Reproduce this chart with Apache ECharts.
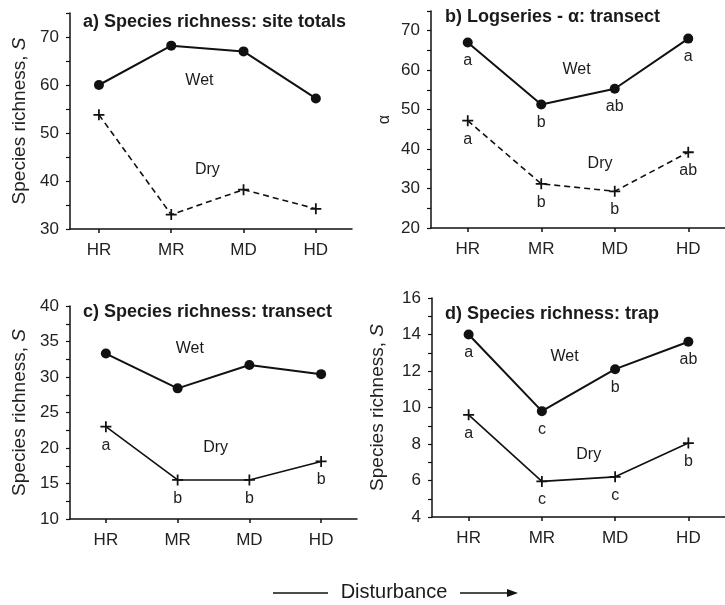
<!DOCTYPE html>
<html>
<head>
<meta charset="utf-8">
<script src="https://cdn.jsdelivr.net/npm/echarts@6/dist/echarts.min.js"></script>
<style>
  html, body { margin: 0; padding: 0; background: #fff; }
  #chart { width: 725px; height: 605px; }
</style>
</head>
<body>
<div id="chart"></div>
<script>
var cats = ['HR', 'MR', 'MD', 'HD'];

// a) site totals
var wetA = [60, 68.2, 67, 57.2];
var dryA = [53.8, 33, 38.2, 34.2];
// b) logseries alpha
var wetB = [67, 51.3, 55.3, 68];
var dryB = [47.2, 31.2, 29.3, 39.2];
var wetLettersB = ['a', 'b', 'ab', 'a'];
var dryLettersB = ['a', 'b', 'b', 'ab'];
// c) transect
var wetC = [33.3, 28.4, 31.7, 30.4];
var dryC = [23, 15.5, 15.5, 18.1];
var dryLettersC = ['a', 'b', 'b', 'b'];
// d) trap
var wetD = [14, 9.8, 12.1, 13.6];
var dryD = [9.6, 5.95, 6.2, 8.05];
var wetLettersD = ['a', 'c', 'b', 'ab'];
var dryLettersD = ['a', 'c', 'c', 'b'];

var yLabelsA = [30, 40, 50, 60, 70];
var yLabelsB = [20, 30, 40, 50, 60, 70];
var yLabelsC = [10, 15, 20, 25, 30, 35, 40];
var yLabelsD = [4, 6, 8, 10, 12, 14, 16];

// Wet / Dry annotation spots, in data units [x, y]
var notesA = [[1.39, 61.0, 'Wet'], [1.5, 42.3, 'Dry']];
var notesB = [[1.48, 60.1, 'Wet'], [1.8, 36.2, 'Dry']];
var notesC = [[1.17, 34.0, 'Wet'], [1.53, 20.0, 'Dry']];
var notesD = [[1.31, 12.8, 'Wet'], [1.64, 7.4, 'Dry']];

var FONT = "'Liberation Sans', Arial, Helvetica, sans-serif";
var INK = '#111';
var plus = 'path://M-0.8,-5 L0.8,-5 L0.8,-0.8 L5,-0.8 L5,0.8 L0.8,0.8 L0.8,5 L-0.8,5 L-0.8,0.8 L-5,0.8 L-5,-0.8 L-0.8,-0.8 Z';

function pts(arr) {
	return arr.map(function (v, i) { return [i, v]; });
}

function xAxisFor(idx, min) {
	return {
		type: 'value', gridIndex: idx, min: min, max: 3.5,
		axisLine: { show: true, onZero: false, lineStyle: { color: INK, width: 1.5 } },
		axisTick: { show: true, length: 4, customValues: [0, 1, 2, 3], lineStyle: { color: INK, width: 1.5 } },
		axisLabel: {
			customValues: [0, 1, 2, 3], margin: 13, color: '#222', fontSize: 17, fontFamily: FONT,
			formatter: function (v) { return cats[v]; }
		},
		splitLine: { show: false }
	};
}

function yAxisFor(idx, min, max, step, labels, name, nameGap, nameSize) {
	return {
		type: 'value', gridIndex: idx, min: min, max: max, interval: step,
		name: name, nameLocation: 'middle', nameGap: nameGap, nameRotate: 90,
		nameTextStyle: {
			color: '#222', fontSize: nameSize, fontFamily: FONT,
			rich: { it: { fontStyle: 'italic', fontSize: nameSize, fontFamily: FONT, color: '#222' } }
		},
		axisLine: { show: true, onZero: false, lineStyle: { color: INK, width: 1.5 } },
		axisTick: { show: true, length: 4, lineStyle: { color: INK, width: 1.2 } },
		axisLabel: { customValues: labels, margin: 11, color: '#222', fontSize: 17, fontFamily: FONT },
		splitLine: { show: false }
	};
}

function lineSeries(idx, data, kind, dashed, letters) {
	return {
		type: 'line', xAxisIndex: idx, yAxisIndex: idx,
		data: pts(data),
		symbol: kind === 'wet' ? 'circle' : plus,
		symbolSize: kind === 'wet' ? 10 : 11,
		itemStyle: { color: INK },
		lineStyle: { color: INK, width: kind === 'wet' ? 2 : 1.6, type: dashed ? [6, 4] : 'solid' },
		label: {
			show: !!letters, position: 'bottom', distance: 5,
			color: '#222', fontSize: 16, fontFamily: FONT,
			formatter: function (p) { return letters ? letters[p.dataIndex] : ''; }
		},
		animation: false,
		z: 3
	};
}

function noteSeries(idx, notes) {
	return {
		type: 'scatter', xAxisIndex: idx, yAxisIndex: idx,
		data: notes.map(function (n) { return { value: [n[0], n[1]], name: n[2] }; }),
		symbolSize: 0,
		itemStyle: { color: INK, opacity: 1 },
		label: {
			show: true, position: 'inside', formatter: '{b}',
			color: '#1a1a1a', fontSize: 16, fontFamily: FONT
		},
		silent: true, animation: false
	};
}

function titleFor(text, left, top) {
	return {
		text: text, left: left, top: top, padding: 0,
		textStyle: { color: '#1a1a1a', fontSize: 18, fontWeight: 'bold', fontFamily: FONT }
	};
}

var chart = echarts.init(document.getElementById('chart'));

var option = {
	backgroundColor: '#fff',
	animation: false,
	title: [
		titleFor('a) Species richness: site totals', 83, 13),
		titleFor('b) Logseries - \u03b1: transect', 445, 8),
		titleFor('c) Species richness: transect', 83, 303),
		titleFor('d) Species richness: trap', 445, 305)
	],
	grid: [
		{ left: 70, top: 13, width: 282, height: 216 },
		{ left: 431, top: 11, width: 294, height: 217 },
		{ left: 70, top: 306, width: 287, height: 213 },
		{ left: 432, top: 298, width: 293, height: 219 }
	],
	xAxis: [
		xAxisFor(0, -0.4),
		xAxisFor(1, -0.5),
		xAxisFor(2, -0.5),
		xAxisFor(3, -0.5)
	],
	yAxis: [
		yAxisFor(0, 30, 75, 5, yLabelsA, 'Species richness, {it|S}', 41, 19),
		yAxisFor(1, 20, 75, 5, yLabelsB, '\u03b1', 38, 16),
		yAxisFor(2, 10, 40, 2.5, yLabelsC, 'Species richness, {it|S}', 41, 19),
		yAxisFor(3, 4, 16, 1, yLabelsD, 'Species richness, {it|S}', 45, 19)
	],
	series: [
		lineSeries(0, wetA, 'wet', false, null),
		lineSeries(0, dryA, 'dry', true, null),
		noteSeries(0, notesA),
		lineSeries(1, wetB, 'wet', false, wetLettersB),
		lineSeries(1, dryB, 'dry', true, dryLettersB),
		noteSeries(1, notesB),
		lineSeries(2, wetC, 'wet', false, null),
		lineSeries(2, dryC, 'dry', false, dryLettersC),
		noteSeries(2, notesC),
		lineSeries(3, wetD, 'wet', false, wetLettersD),
		lineSeries(3, dryD, 'dry', false, dryLettersD),
		noteSeries(3, notesD)
	],
	graphic: [
		{ type: 'line', shape: { x1: 273, y1: 593, x2: 328, y2: 593 }, style: { stroke: INK, lineWidth: 1.5 } },
		{ type: 'text', style: { text: 'Disturbance', x: 394, y: 592, align: 'center', verticalAlign: 'middle', font: '20px ' + FONT, fill: '#1a1a1a' } },
		{ type: 'line', shape: { x1: 460, y1: 593, x2: 509, y2: 593 }, style: { stroke: INK, lineWidth: 1.5 } },
		{ type: 'polygon', shape: { points: [[507, 589], [518, 593], [507, 597]] }, style: { fill: INK } }
	]
};

chart.setOption(option);
</script>
</body>
</html>
